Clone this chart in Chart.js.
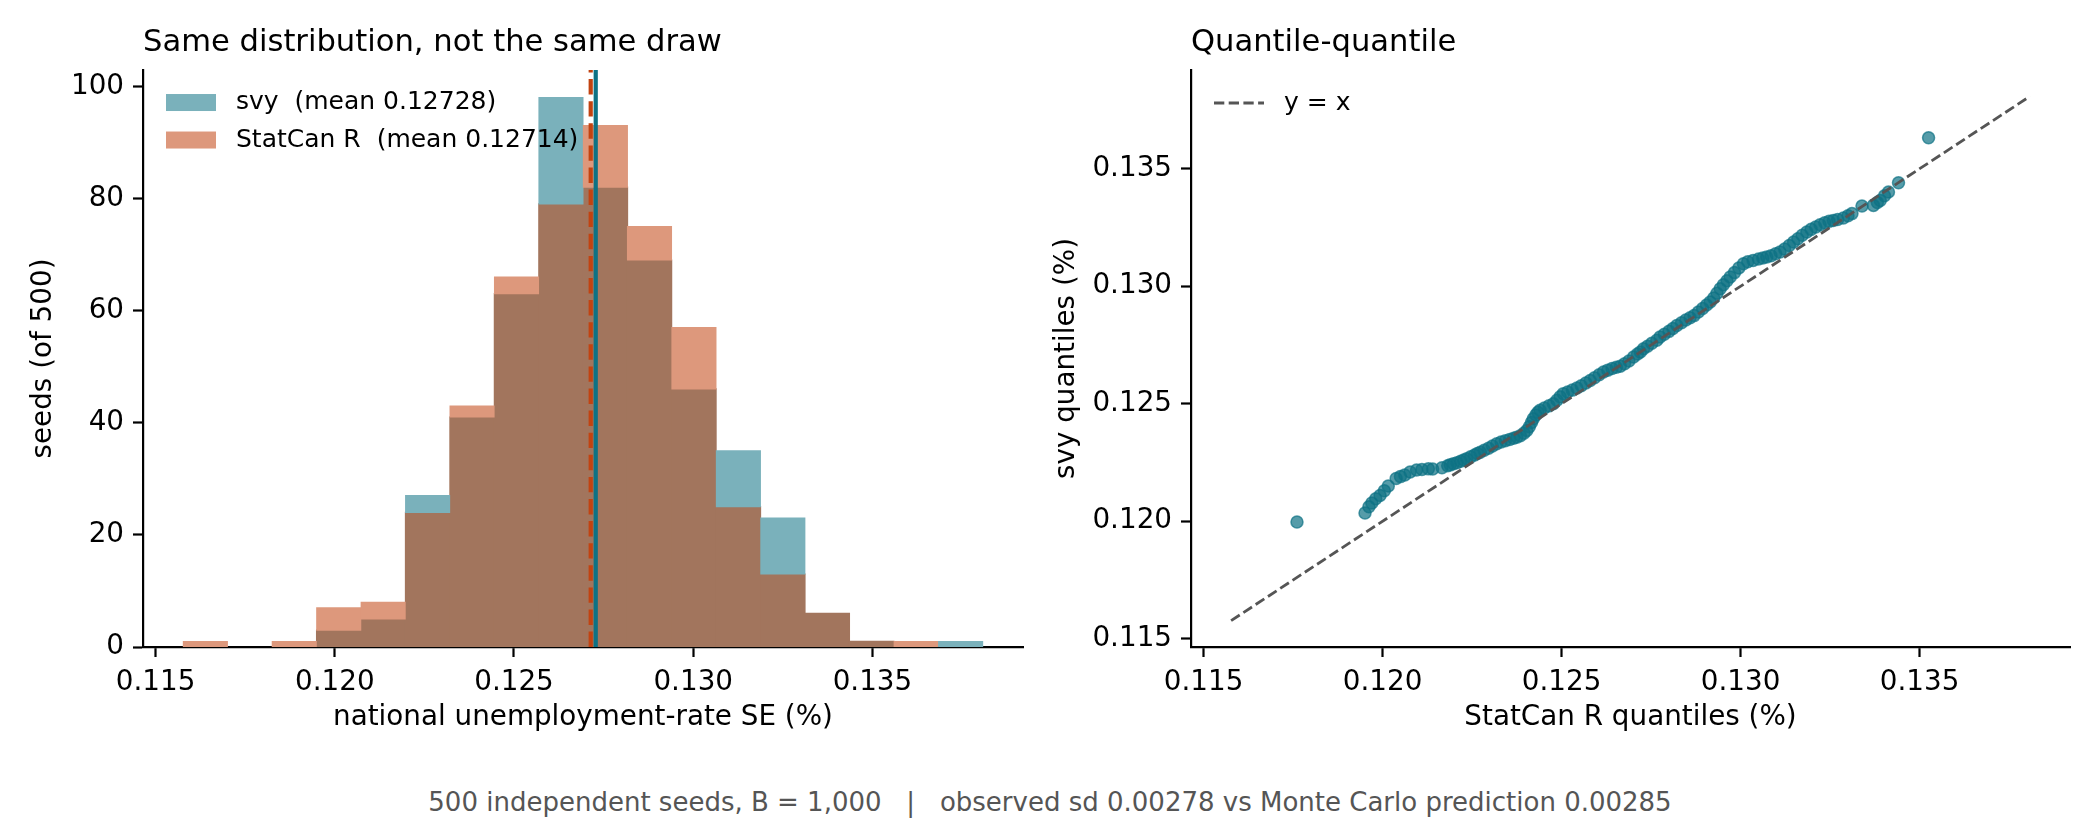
<!DOCTYPE html>
<html>
<head>
<meta charset="utf-8">
<title>Same distribution, not the same draw</title>
<script src="https://cdn.jsdelivr.net/npm/chart.js@4"></script>
<style>
    html, body { margin: 0; padding: 0; background: #fff; }
    body { width: 2100px; height: 840px; position: relative; overflow: hidden; font-family: "DejaVu Sans", sans-serif; }
    .panel { position: absolute; top: 0; width: 1050px; height: 760px; }
    #footer {
        position: absolute; left: 0; top: 786px; width: 2100px;
        text-align: center; font-size: 26px; line-height: 32px;
        color: #555; white-space: pre;
    }
</style>
</head>
<body>
<div class="panel" style="left:0"><canvas id="histChart"></canvas></div>
<div class="panel" style="left:1050px"><canvas id="qqChart"></canvas></div>
<div id="footer">500 independent seeds, B = 1,000   |   observed sd 0.00278 vs Monte Carlo prediction 0.00285</div>

<script>
// ---- data ----

// histogram bins (centres, %), shared by both series
const binCenters = [0.11639, 0.11763, 0.11887, 0.12011, 0.12135, 0.12259, 0.12383, 0.12507, 0.12631,
                    0.12755, 0.12878, 0.13002, 0.13126, 0.13250, 0.13374, 0.13498, 0.13622, 0.13746];
const svyCounts     = [0, 0, 0, 3, 5, 27, 41, 63, 98, 82, 69, 46, 35, 23, 6, 1, 0, 1];
const statcanCounts = [1, 0, 1, 7, 8, 24, 43, 66, 79, 93, 75, 57, 25, 13, 6, 1, 1, 0];

const svyMean = 0.12728;
const statcanMean = 0.12714;

// quantile-quantile points: x = StatCan R quantile, y = svy quantile
const qqStatCan = [
    0.11761, 0.11951, 0.11962, 0.11970, 0.11981, 0.11993, 0.12005, 0.12016, 0.12038, 0.12050,
    0.12062, 0.12077, 0.12095, 0.12110, 0.12128, 0.12140, 0.12166, 0.12182, 0.12189, 0.12198,
    0.12208, 0.12218, 0.12227, 0.12235, 0.12246, 0.12257, 0.12265, 0.12273, 0.12284, 0.12296,
    0.12307, 0.12319, 0.12331, 0.12343, 0.12355, 0.12366, 0.12375, 0.12385, 0.12395, 0.12403,
    0.12410, 0.12416, 0.12421, 0.12428, 0.12434, 0.12440, 0.12452, 0.12465, 0.12477, 0.12487,
    0.12496, 0.12505, 0.12517, 0.12530, 0.12543, 0.12555, 0.12568, 0.12580, 0.12592, 0.12605,
    0.12617, 0.12629, 0.12641, 0.12653, 0.12664, 0.12676, 0.12688, 0.12701, 0.12712, 0.12720,
    0.12729, 0.12740, 0.12752, 0.12766, 0.12775, 0.12787, 0.12800, 0.12811, 0.12822, 0.12835,
    0.12847, 0.12859, 0.12870, 0.12882, 0.12894, 0.12905, 0.12915, 0.12925, 0.12934, 0.12943,
    0.12952, 0.12962, 0.12971, 0.12983, 0.12995, 0.13008, 0.13020, 0.13035, 0.13050, 0.13062,
    0.13073, 0.13085, 0.13098, 0.13110, 0.13123, 0.13136, 0.13148, 0.13160, 0.13172, 0.13185,
    0.13197, 0.13210, 0.13222, 0.13235, 0.13247, 0.13259, 0.13271, 0.13287, 0.13300, 0.13311,
    0.13339, 0.13371, 0.13382, 0.13390, 0.13402, 0.13413, 0.13441, 0.13525
];
const qqSvy = [
    0.11997, 0.12035, 0.12062, 0.12078, 0.12096, 0.12110, 0.12130, 0.12150, 0.12182, 0.12190,
    0.12197, 0.12210, 0.12218, 0.12220, 0.12223, 0.12222, 0.12228, 0.12236, 0.12240, 0.12245,
    0.12249, 0.12255, 0.12261, 0.12266, 0.12274, 0.12282, 0.12288, 0.12294, 0.12302, 0.12311,
    0.12320, 0.12330, 0.12337, 0.12343, 0.12348, 0.12353, 0.12358, 0.12364, 0.12375, 0.12386,
    0.12402, 0.12420, 0.12436, 0.12452, 0.12464, 0.12472, 0.12482, 0.12491, 0.12500, 0.12515,
    0.12530, 0.12543, 0.12550, 0.12558, 0.12567, 0.12577, 0.12588, 0.12599, 0.12611, 0.12623,
    0.12635, 0.12643, 0.12650, 0.12655, 0.12660, 0.12670, 0.12682, 0.12699, 0.12712, 0.12720,
    0.12734, 0.12745, 0.12757, 0.12770, 0.12784, 0.12796, 0.12808, 0.12820, 0.12833, 0.12845,
    0.12856, 0.12866, 0.12875, 0.12890, 0.12905, 0.12920, 0.12933, 0.12950, 0.12970, 0.12989,
    0.13006, 0.13023, 0.13039, 0.13058, 0.13078, 0.13096, 0.13104, 0.13110, 0.13116, 0.13120,
    0.13124, 0.13130, 0.13138, 0.13146, 0.13158, 0.13173, 0.13188, 0.13202, 0.13217, 0.13231,
    0.13242, 0.13252, 0.13262, 0.13270, 0.13276, 0.13280, 0.13284, 0.13290, 0.13300, 0.13309,
    0.13341, 0.13344, 0.13356, 0.13365, 0.13385, 0.13401, 0.13440, 0.13632
];

// y = x reference line ends, axis limits and ticks
const diagEnds = [0.11577, 0.13808];
const axisMin = 0.11465, axisMax = 0.13920;
const histYMax = 102.9;
const seTicks = [0.115, 0.120, 0.125, 0.130, 0.135];
const countTicks = [0, 20, 40, 60, 80, 100];

// ---- styling ----
const TEAL_RGB = [14, 114, 132];
const ORANGE_RGB = [194, 67, 16];
const BAR_ALPHA = 0.55;

const rgb = c => `rgb(${c.map(Math.round).join(',')})`;
const over = (fg, a, bg) => fg.map((v, i) => v * a + bg[i] * (1 - a));
const WHITE = [255, 255, 255];

const TEAL = rgb(TEAL_RGB);
const ORANGE = rgb(ORANGE_RGB);
// the two translucent histograms composited on white, as opaque colours (no seams between bars)
const TEAL_ON_WHITE = over(TEAL_RGB, BAR_ALPHA, WHITE);
const ORANGE_ON_WHITE = over(ORANGE_RGB, BAR_ALPHA, WHITE);
const BOTH = over(ORANGE_RGB, BAR_ALPHA, TEAL_ON_WHITE);
const TICK_PX = 27.8;

Chart.defaults.font.family = '"DejaVu Sans", sans-serif';
Chart.defaults.color = '#000';
Chart.defaults.animation = false;

// legend drawn inside the plot area, top-left, no frame
const insideLegend = {
    id: 'insideLegend',
    afterDatasetsDraw(chart, args, opts) {
        const {ctx, chartArea} = chart;
        ctx.save();
        ctx.font = `${opts.fontSize}px "DejaVu Sans"`;
        ctx.textBaseline = 'middle';
        opts.items.forEach((it, i) => {
            const x = chartArea.left + opts.dx;
            const y = chartArea.top + opts.dy + i * opts.rowGap;
            if (it.kind === 'box') {
                ctx.fillStyle = it.color;
                ctx.fillRect(x, y - 8.5, 50, 17);
            } else {
                ctx.strokeStyle = it.color;
                ctx.lineWidth = it.width;
                ctx.setLineDash(it.dash);
                ctx.beginPath();
                ctx.moveTo(x, y);
                ctx.lineTo(x + 50, y);
                ctx.stroke();
                ctx.setLineDash([]);
            }
            ctx.fillStyle = '#000';
            ctx.fillText(it.label, x + opts.textGap, y);
        });
        ctx.restore();
    }
};

// matplotlib-like axis: left/bottom spine, outward ticks, no grid
function makeAxis(ticks, fmt, title, titlePad, size, horizontal, min, max) {
    return {
        type: 'linear',
        min: min,
        max: max,
        offset: false,
        afterBuildTicks: s => { s.ticks = ticks.map(v => ({value: v})); },
        afterFit: s => { if (horizontal) s.height = size; else s.width = size; },
        border: {display: true, color: '#000', width: 2.2},
        grid: {display: true, drawOnChartArea: false, drawTicks: true, tickLength: 10,
               tickWidth: 2.2, tickColor: '#000', offset: false},
        ticks: {font: {size: TICK_PX}, color: '#000', padding: 9, autoSkip: false,
                maxRotation: 0, callback: fmt},
        title: {display: true, text: title, font: {size: TICK_PX}, color: '#000', padding: titlePad}
    };
}

function panelTitle(text) {
    return {
        display: true, text: text, align: 'start', fullSize: false, color: '#000',
        font: {size: 30.6, weight: 'normal'},
        padding: {top: 24.6, bottom: 8.7}
    };
}

const fmt3 = v => Number(v).toFixed(3);

// ---- left panel: overlaid histograms ----
// shared part of each bin (both series) and the part only the taller series reaches
const sharedBars = [], extraBars = [], extraColors = [];
binCenters.forEach((x, i) => {
    const lo = Math.min(svyCounts[i], statcanCounts[i]);
    const hi = Math.max(svyCounts[i], statcanCounts[i]);
    if (lo > 0) sharedBars.push({x: x, y: [0, lo]});
    if (hi > lo) {
        extraBars.push({x: x, y: [lo, hi]});
        extraColors.push(rgb(svyCounts[i] > statcanCounts[i] ? TEAL_ON_WHITE : ORANGE_ON_WHITE));
    }
});

const svyLabel = `svy  (mean ${svyMean.toFixed(5)})`;
const statcanLabel = `StatCan R  (mean ${statcanMean.toFixed(5)})`;

new Chart(document.getElementById('histChart'), {
    type: 'bar',
    data: {
        datasets: [
            {
                type: 'line',
                data: [{x: statcanMean, y: 0}, {x: statcanMean, y: histYMax}],
                borderColor: ORANGE, borderWidth: 4.2, borderDash: [15.4, 6.7],
                pointRadius: 0, order: 0
            },
            {
                type: 'line',
                data: [{x: svyMean, y: 0}, {x: svyMean, y: histYMax}],
                borderColor: TEAL, borderWidth: 4.2,
                pointRadius: 0, order: 0
            },
            {
                label: 'both',
                data: sharedBars,
                backgroundColor: rgb(BOTH), borderWidth: 0, inflateAmount: 0.7,
                barPercentage: 1, categoryPercentage: 1, grouped: false, order: 2
            },
            {
                label: 'taller series',
                data: extraBars,
                backgroundColor: extraColors, borderWidth: 0, inflateAmount: 0.5,
                barPercentage: 1, categoryPercentage: 1, grouped: false, order: 1
            }
        ]
    },
    options: {
        responsive: true,
        maintainAspectRatio: false,
        layout: {padding: {left: 0, right: 27, top: 0, bottom: 0}},
        scales: {
            x: makeAxis(seTicks, fmt3, 'national unemployment-rate SE (%)',
                        {top: 0, bottom: 25.3}, 113, true, axisMin, axisMax),
            y: makeAxis(countTicks, v => String(v), 'seeds (of 500)',
                        {top: 27.3, bottom: 0}, 143, false, 0, histYMax)
        },
        plugins: {
            title: panelTitle('Same distribution, not the same draw'),
            legend: {display: false},
            tooltip: {enabled: false},
            insideLegend: {
                dx: 23, dy: 32.5, rowGap: 37.5, textGap: 70, fontSize: 25,
                items: [
                    {kind: 'box', label: svyLabel, color: rgb(TEAL_ON_WHITE)},
                    {kind: 'box', label: statcanLabel, color: rgb(ORANGE_ON_WHITE)}
                ]
            }
        }
    },
    plugins: [insideLegend]
});

// ---- right panel: quantile-quantile ----
new Chart(document.getElementById('qqChart'), {
    type: 'scatter',
    data: {
        datasets: [
            {
                label: 'y = x',
                data: diagEnds.map(v => ({x: v, y: v})),
                showLine: true, borderColor: '#555', borderWidth: 2.8, borderDash: [10.3, 4.4],
                pointRadius: 0, order: 0
            },
            {
                label: 'quantiles',
                data: qqStatCan.map((x, i) => ({x: x, y: qqSvy[i]})),
                backgroundColor: 'rgba(14,114,132,0.7)',
                borderColor: 'rgba(14,114,132,0.7)',
                borderWidth: 1.5, pointRadius: 6, order: 1
            }
        ]
    },
    options: {
        responsive: true,
        maintainAspectRatio: false,
        layout: {padding: {left: 0, right: 30, top: 0, bottom: 0}},
        scales: {
            x: makeAxis(seTicks, fmt3, 'StatCan R quantiles (%)',
                        {top: 0, bottom: 25.3}, 113, true, axisMin, axisMax),
            y: makeAxis(seTicks, fmt3, 'svy quantiles (%)',
                        {top: 0, bottom: 0}, 141, false, axisMin, axisMax)
        },
        plugins: {
            title: panelTitle('Quantile-quantile'),
            legend: {display: false},
            tooltip: {enabled: false},
            insideLegend: {
                dx: 23, dy: 33, rowGap: 37.5, textGap: 70, fontSize: 25,
                items: [{kind: 'dash', label: 'y = x', color: '#555', width: 2.8, dash: [10.3, 4.4]}]
            }
        }
    },
    plugins: [insideLegend]
});
</script>
</body>
</html>
